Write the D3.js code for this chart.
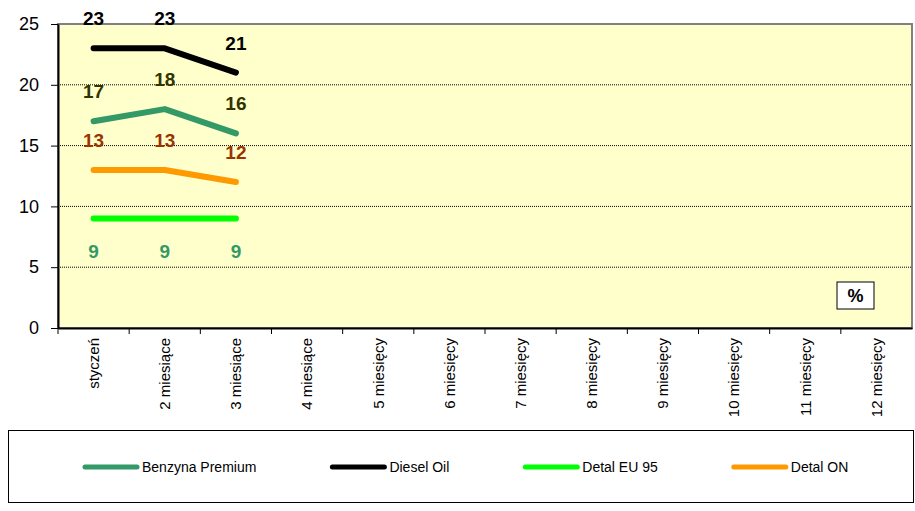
<!DOCTYPE html>
<html>
<head>
<meta charset="utf-8">
<script src="https://cdn.jsdelivr.net/npm/d3@7"></script>
<style>
  body { margin: 0; background: #fff; }
  svg { display: block; font-family: Arial, "Liberation Sans", sans-serif; }
</style>
</head>
<body>
<svg width="915" height="511"></svg>
<script>
// chart data
var categories = ["styczeń", "2 miesiące", "3 miesiące", "4 miesiące", "5 miesięcy", "6 miesięcy",
    "7 miesięcy", "8 miesięcy", "9 miesięcy", "10 miesięcy", "11 miesięcy", "12 miesięcy"];
var seriesNames = ["Benzyna Premium", "Diesel Oil", "Detal EU 95", "Detal ON"];
var benzynaPremium = [17, 18, 16];
var dieselOil = [23, 23, 21];
var detalEU95 = [9, 9, 9];
var detalON = [13, 13, 12];
var yTicks = [0, 5, 10, 15, 20, 25];
var unitLabel = "%";

var series = [
    {name: seriesNames[0], values: benzynaPremium, color: "#339966", label: "#333300", above: true},
    {name: seriesNames[1], values: dieselOil, color: "#000000", label: "#000000", above: true},
    {name: seriesNames[2], values: detalEU95, color: "#00ff00", label: "#339966", above: false},
    {name: seriesNames[3], values: detalON, color: "#ff9900", label: "#993300", above: true}
];

var svg = d3.select("svg");
var plotLeft = 58, plotRight = 912, plotTop = 24, plotBottom = 328;

var x = d3.scaleBand().domain(categories).range([plotLeft, plotRight]).padding(0);
var y = d3.scaleLinear().domain([0, 25]).range([plotBottom, plotTop]);

// plot area
svg.append("rect")
    .attr("x", plotLeft).attr("y", plotTop)
    .attr("width", plotRight - plotLeft).attr("height", plotBottom - plotTop)
    .attr("fill", "#ffffcc")
    .attr("stroke", "#808080")
    .attr("stroke-width", 2);

// grid lines
svg.append("g").selectAll("line")
    .data(yTicks.filter(function (d) { return d > 0 && d < 25; }))
    .join("line")
    .attr("x1", plotLeft).attr("x2", plotRight)
    .attr("y1", function (d) { return y(d); })
    .attr("y2", function (d) { return y(d); })
    .attr("stroke", "#000")
    .attr("stroke-width", 1)
    .attr("stroke-dasharray", "1,1");

// lines
var line = d3.line()
    .x(function (d, i) { return x(categories[i]) + x.bandwidth() / 2; })
    .y(function (d) { return y(d); });

series.forEach(function (s) {
    svg.append("path")
        .datum(s.values)
        .attr("d", line)
        .attr("fill", "none")
        .attr("stroke", s.color)
        .attr("stroke-width", 6)
        .attr("stroke-linecap", "round")
        .attr("stroke-linejoin", "round");
});

// value labels
series.forEach(function (s) {
    svg.append("g").selectAll("text")
        .data(s.values)
        .join("text")
        .attr("x", function (d, i) { return x(categories[i]) + x.bandwidth() / 2; })
        .attr("y", function (d) { return y(d) + (s.above ? -23 : 39); })
        .attr("text-anchor", "middle")
        .attr("font-size", 19)
        .attr("font-weight", "bold")
        .attr("fill", s.label)
        .text(function (d) { return d; });
});

// y axis
var yAxis = svg.append("g")
    .attr("transform", "translate(" + plotLeft + ",0)")
    .call(d3.axisLeft(y).tickValues(yTicks).tickSize(7).tickPadding(12).tickSizeOuter(0));
yAxis.select(".domain").attr("stroke", "#000").attr("stroke-width", 2);
yAxis.selectAll("text").attr("font-size", 18).attr("font-family", "Arial, 'Liberation Sans', sans-serif").attr("fill", "#000");

// x axis
var xAxis = svg.append("g")
    .attr("transform", "translate(0," + plotBottom + ")")
    .call(d3.axisBottom(x).tickSize(0).tickSizeOuter(0));
xAxis.select(".domain").attr("stroke", "#000").attr("stroke-width", 2);
xAxis.selectAll("text")
    .attr("font-size", 15)
    .attr("font-family", "Arial, 'Liberation Sans', sans-serif")
    .attr("fill", "#000")
    .attr("text-anchor", "end")
    .attr("transform", "rotate(-90)")
    .attr("x", -10)
    .attr("y", 0)
    .attr("dy", "0.35em");

// x tick marks between categories
svg.append("g").selectAll("line")
    .data(categories)
    .join("line")
    .attr("x1", function (d) { return x(d); })
    .attr("x2", function (d) { return x(d); })
    .attr("y1", plotBottom).attr("y2", plotBottom + 6)
    .attr("stroke", "#000");

// unit box
svg.append("rect")
    .attr("x", 837).attr("y", 282).attr("width", 37).attr("height", 27)
    .attr("fill", "#fff").attr("stroke", "#000");
svg.append("text")
    .attr("x", 855.5).attr("y", 302)
    .attr("text-anchor", "middle")
    .attr("font-size", 18).attr("font-weight", "bold")
    .text(unitLabel);

// legend
svg.append("rect")
    .attr("x", 8.5).attr("y", 430.5).attr("width", 905).attr("height", 72)
    .attr("fill", "#fff").attr("stroke", "#000");

var lx = 85;
series.forEach(function (s) {
    svg.append("line")
        .attr("x1", lx).attr("x2", lx + 52)
        .attr("y1", 467).attr("y2", 467)
        .attr("stroke", s.color).attr("stroke-width", 5)
        .attr("stroke-linecap", "round");
    var t = svg.append("text")
        .attr("x", lx + 57).attr("y", 472)
        .attr("font-size", 14)
        .text(s.name);
    lx = lx + 57 + t.node().getComputedTextLength() + 76;
});
</script>
</body>
</html>
